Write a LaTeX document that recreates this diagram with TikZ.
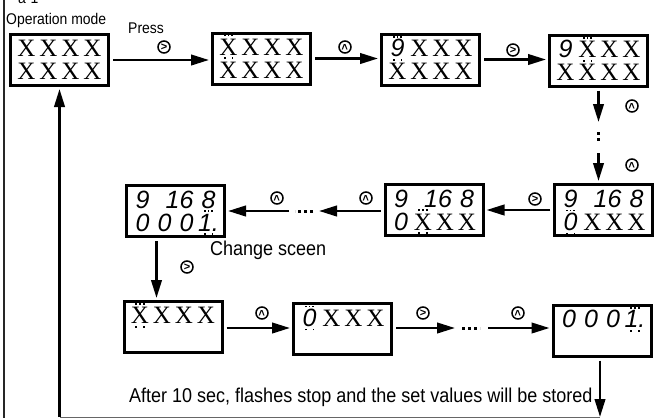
\documentclass[tikz,border=0pt]{standalone}
\usepackage{fontspec}
\setmainfont{Liberation Serif}
\newfontfamily\labelsf[FakeStretch=0.9]{Liberation Sans}
\newfontfamily\segsf{Liberation Sans}
\usetikzlibrary{arrows.meta}

\newcommand\cell[1]{\makebox[22pt]{#1}}
\newcommand\sgf{\segsf\itshape}
\newcommand\xx{\cell{X}}
\newcommand\sg[1]{\cell{\sgf #1}}
\newcommand\sgr[1]{\cell{\hfill\sgf #1\hspace{-4pt}}}
\newcommand\pix{\rule{1.7pt}{1.7pt}}
\newcommand\blink[1]{\cell{\ooalign{#1\cr
  \hidewidth\smash{\raisebox{19pt}{\pix\kern2pt\pix\kern2pt\pix}}\hidewidth\cr
  \hidewidth\smash{\raisebox{-4pt}{\pix\kern6pt\pix}}\hidewidth\cr}}}

\begin{document}
\begin{tikzpicture}[x=1pt,y=-1pt,
    disp/.style={draw,line width=3pt,minimum width=98pt,minimum height=51pt,
      inner sep=0pt,align=center,font=\fontsize{25}{23}\selectfont},
    arr/.style={line width=2.5pt,-{Triangle[length=18pt,width=10.5pt]},
      shorten <=3pt,shorten >=2pt},
    dots/.style={line width=3pt,dash pattern=on 3pt off 3pt},
    key/.style={circle,draw,line width=1.5pt,minimum size=12pt,inner sep=0pt,
      font=\segsf\bfseries\fontsize{11}{11}\selectfont},
    keyup/.style={key,rotate=90},
    txt/.style={anchor=base west,inner sep=0pt,
      font=\labelsf\fontsize{15.5}{15.5}\selectfont},
    bigtxt/.style={txt,font=\labelsf\fontsize{20}{20}\selectfont}]
  \useasboundingbox (0,0) rectangle (659,418);

  % frame
  \draw[line width=1.5pt,black!85] (4,0) -- (4,418);
  \node[txt] (title) at (18,3.5) {a-1};
  \node[txt] (mode) at (6,24) {Operation mode};

  % row 1
  \node[disp] (b1) at (59.5,60) {\xx\xx\xx\xx\\\xx\xx\xx\xx};
  \node[disp] (b2) at (261.5,58.5) {\blink{X}\xx\xx\xx\\\xx\xx\xx\xx};
  \node[disp] (b3) at (430.5,59.5) {\blink{\sgf 9}\xx\xx\xx\\\xx\xx\xx\xx};
  \node[disp] (b4) at (598.5,60.5) {\sg{9}\blink{X}\xx\xx\\\xx\xx\xx\xx};
  \draw[arr] (b1.east) -- (b1.east -| b2.west);
  \draw[arr] (b2.east) -- (b2.east -| b3.west);
  \draw[arr] (b3.east) -- (b3.east -| b4.west);
  \node[txt] (press) at (128,33) {Press};
  \node[key] (k1) at (164,47) {>};
  \node[keyup] (k2) at (345,47) {>};
  \node[key] (k3) at (513,50) {>};

  % down the right side
  \coordinate (v1) at (598.5,124);
  \coordinate (v2) at (598.5,132);
  \coordinate (v3) at (598.5,143);
  \coordinate (v4) at (598.5,150);
  \node[disp] (b5) at (603.5,210) {\sg{9}\sgr{1}\sg{6}\sg{8}\\\blink{\sgf 0}\xx\xx\xx};
  \draw[arr] (b4.south) -- (v1);
  \draw[dots] (v2) -- (v3);
  \draw[arr] (v4) -- (v4 |- b5.north);
  \node[keyup] (k4) at (632,106) {>};
  \node[keyup] (k5) at (632,165) {>};

  % row 2
  \node[disp] (b6) at (434,210) {\sg{9}\sgr{1}\sg{6}\sg{8}\\\sg{0}\blink{X}\xx\xx};
  \node[disp] (b7) at (175.5,211) {\sg{9}\sgr{1}\sg{6}\sg{8}\\\sg{0}\sg{0}\sg{0}\blink{\sgf 1.}};
  \coordinate (h1) at (317,211);
  \coordinate (h2) at (313,211);
  \coordinate (h3) at (295,211);
  \coordinate (h4) at (292,211);
  \draw[arr] (b5.west) -- (b5.west -| b6.east);
  \draw[arr] (b6.west |- h1) -- (h1);
  \draw[dots] (h2) -- (h3);
  \draw[arr] (h4) -- (h4 -| b7.east);
  \node[key] (k6) at (535,199) {>};
  \node[keyup] (k7) at (366,198) {>};
  \node[keyup] (k8) at (277,198) {>};
  \node[bigtxt] (chg) at (210,255) {Change sceen};

  % row 3
  \node[disp] (b8) at (173,327) {\blink{X}\xx\xx\xx\\\phantom{X}};
  \node[disp] (b9) at (342.5,329) {\blink{\sgf 0}\xx\xx\xx\\\phantom{X}};
  \node[disp] (b10) at (602,330.5) {\sg{0}\sg{0}\sg{0}\blink{\sgf 1.}\\\phantom{X}};
  \draw[arr] ([xshift=-19pt]b7.south) -- ([xshift=-19pt]b7.south |- b8.north);
  \node[key] (k9) at (187,267) {>};
  \coordinate (r1) at (457,328);
  \coordinate (r2) at (462,328);
  \coordinate (r3) at (480,328);
  \coordinate (r4) at (485,328);
  \draw[arr] (b8.east |- r1) -- (r1 -| b9.west);
  \draw[arr] (b9.east |- r1) -- (r1);
  \draw[dots] (r2) -- (r3);
  \draw[arr] (r4) -- (r4 -| b10.west);
  \node[keyup] (k10) at (262,313) {>};
  \node[key] (k11) at (423,313) {>};
  \node[keyup] (k12) at (518,313) {>};

  % back to the start
  \node[bigtxt] (note) at (129,402) {After 10 sec, flashes stop and the set values will be stored};
  \coordinate (f1) at (600,417);
  \coordinate (f2) at (59.5,417);
  \draw[arr,shorten >=0pt] ([xshift=-2pt]b10.south) -- (f1);
  \draw[line width=1pt,black!60] (f1) -- (f2);
  \draw[arr,shorten <=0pt] (f2) -- (b1.south);
\end{tikzpicture}
\end{document}
